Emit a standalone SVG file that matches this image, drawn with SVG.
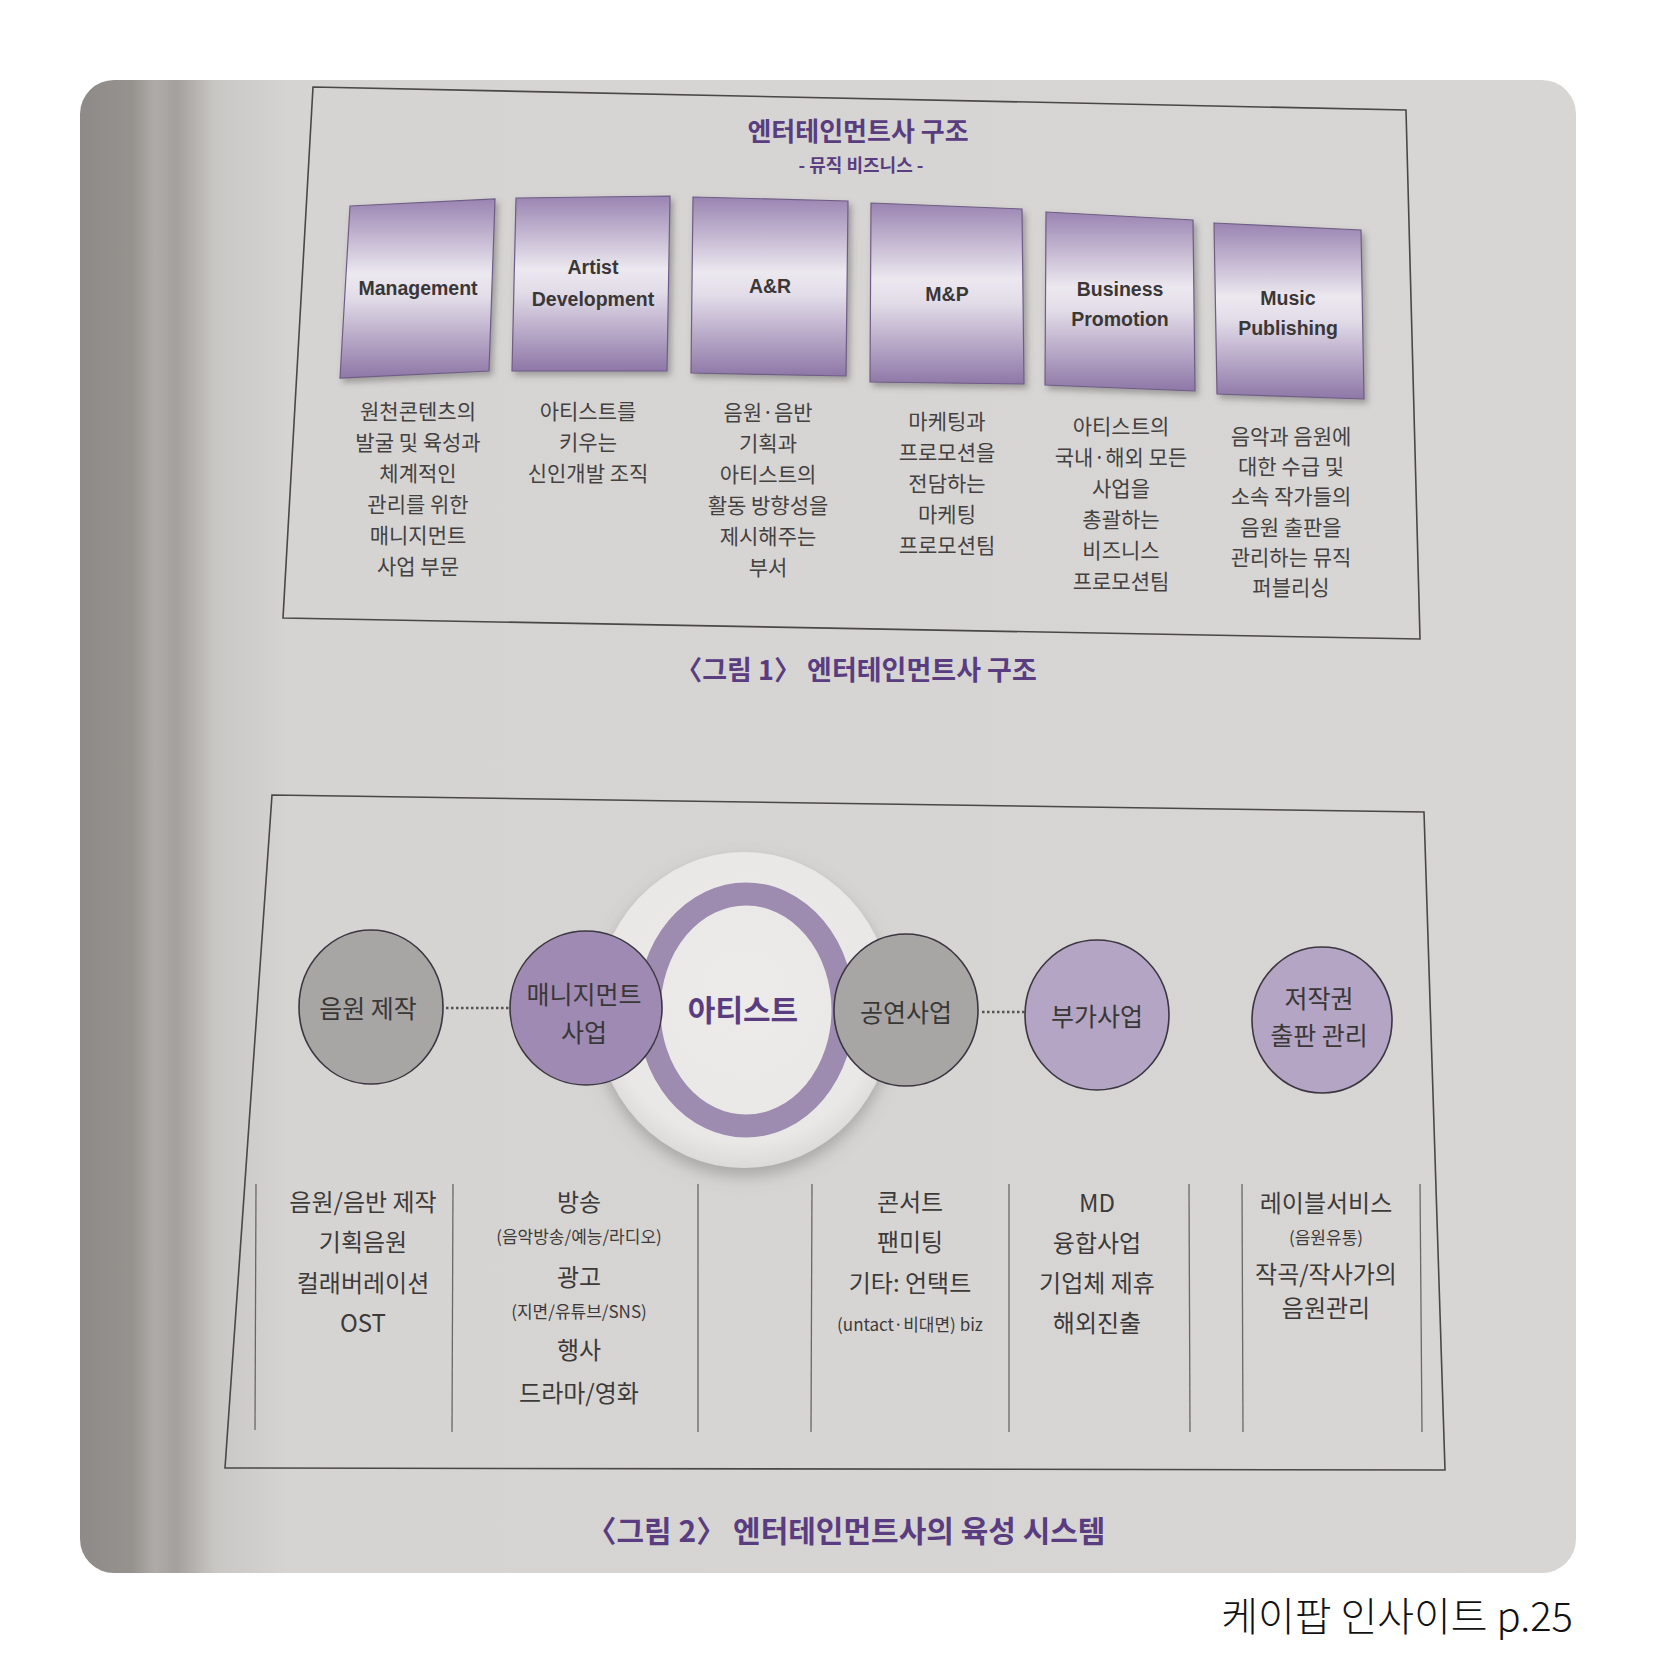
<svg xmlns="http://www.w3.org/2000/svg" width="1656" height="1656" viewBox="0 0 1656 1656">
<defs>
<linearGradient id="pageG" x1="0" y1="0" x2="1" y2="0">
<stop offset="0" stop-color="#8d8a88"/>
<stop offset="0.035" stop-color="#96938f"/>
<stop offset="0.05" stop-color="#aeaba8"/>
<stop offset="0.065" stop-color="#a3a09d"/>
<stop offset="0.09" stop-color="#c9c7c4"/>
<stop offset="0.14" stop-color="#d6d4d2"/>
<stop offset="1" stop-color="#d8d6d4"/>
</linearGradient>
<linearGradient id="boxG" x1="0" y1="0" x2="0" y2="1">
<stop offset="0" stop-color="#9a84b2"/>
<stop offset="0.42" stop-color="#ece8ef"/>
<stop offset="0.55" stop-color="#e2dce8"/>
<stop offset="1" stop-color="#8e77a7"/>
</linearGradient>
<radialGradient id="bigG" cx="0.5" cy="0.45" r="0.55">
<stop offset="0" stop-color="#ecebea"/>
<stop offset="0.85" stop-color="#e9e8e7"/>
<stop offset="1" stop-color="#dcdad8"/>
</radialGradient>
<filter id="sh" x="-20%" y="-20%" width="140%" height="140%">
<feDropShadow dx="3" dy="4" stdDeviation="3" flood-color="#555" flood-opacity="0.45"/>
</filter>
<filter id="sh2" x="-20%" y="-20%" width="140%" height="150%">
<feDropShadow dx="0" dy="8" stdDeviation="8" flood-color="#777" flood-opacity="0.5"/>
</filter>
<clipPath id="photo"><rect x="80" y="80" width="1496" height="1493" rx="34"/></clipPath>
</defs>
<style>
.frame{fill:none;stroke:#4a4747;stroke-width:1.6}
.box{fill:url(#boxG);stroke:#6f5d86;stroke-width:1.2;filter:url(#sh)}
.lbl{font-family:"Liberation Sans",Arial,sans-serif;font-weight:bold;font-size:19.5px;fill:#3a3737;text-anchor:middle}
.desc{font-family:"Noto Sans CJK KR","Noto Sans",sans-serif;font-size:21px;fill:#444141;text-anchor:middle}
.ttl{font-family:"Noto Sans CJK KR","Noto Sans",sans-serif;font-weight:bold;fill:#5a3d80;text-anchor:middle}
.ctx{font-family:"Noto Sans CJK KR","Noto Sans",sans-serif;font-size:25px;fill:#3a3737;text-anchor:middle}
.col{font-family:"Noto Sans CJK KR","Noto Sans",sans-serif;font-size:24px;fill:#3d3a3a;text-anchor:middle}
.sm{font-size:17px}
.gray{fill:#a8a6a5;stroke:#3b3640;stroke-width:1.6}
.pur{fill:#9e8ab2;stroke:#3b3640;stroke-width:1.6}
.lpur{fill:#b3a5c3;stroke:#3b3640;stroke-width:1.6}
.dot{stroke:#555;stroke-width:2.5;stroke-dasharray:2.5 2.5;fill:none}
.vl{stroke:#6a6767;stroke-width:1.3}
</style>

<rect x="0" y="0" width="1656" height="1656" fill="#ffffff"/>
<g clip-path="url(#photo)">
<rect x="80" y="80" width="1496" height="1493" fill="url(#pageG)"/>
</g>

<g id="figure1">
<polygon class="frame" points="313,87 1406,110 1420,639 283,618"/>
<text class="ttl" x="858" y="141" font-size="26">엔터테인먼트사 구조</text>
<text class="ttl" x="861" y="172" font-size="18" font-weight="normal" fill="#4a3a5e">- 뮤직 비즈니스 -</text>

<g id="box-management">
<polygon class="box" points="350,206 495,199 489,371 340,378"/>
<text class="lbl" x="418" y="295">Management</text>
<text class="desc"><tspan x="418" y="419">원천콘텐츠의</tspan><tspan x="418" y="450">발굴 및 육성과</tspan><tspan x="418" y="481">체계적인</tspan><tspan x="418" y="512">관리를 위한</tspan><tspan x="418" y="543">매니지먼트</tspan><tspan x="418" y="574">사업 부문</tspan></text>
</g>
<g id="box-artist-development">
<polygon class="box" points="516,198 670,196 667,371 512,371"/>
<text class="lbl"><tspan x="593" y="274">Artist</tspan><tspan x="593" y="306">Development</tspan></text>
<text class="desc"><tspan x="588" y="419">아티스트를</tspan><tspan x="588" y="450">키우는</tspan><tspan x="588" y="481">신인개발 조직</tspan></text>
</g>
<g id="box-ar">
<polygon class="box" points="693,197 848,201 846,376 691,373"/>
<text class="lbl" x="770" y="293">A&amp;R</text>
<text class="desc"><tspan x="768" y="420">음원·음반</tspan><tspan x="768" y="451">기획과</tspan><tspan x="768" y="482">아티스트의</tspan><tspan x="768" y="513">활동 방향성을</tspan><tspan x="768" y="544">제시해주는</tspan><tspan x="768" y="575">부서</tspan></text>
</g>
<g id="box-mp">
<polygon class="box" points="871,203 1022,209 1024,384 870,382"/>
<text class="lbl" x="947" y="301">M&amp;P</text>
<text class="desc"><tspan x="947" y="429">마케팅과</tspan><tspan x="947" y="460">프로모션을</tspan><tspan x="947" y="491">전담하는</tspan><tspan x="947" y="522">마케팅</tspan><tspan x="947" y="553">프로모션팀</tspan></text>
</g>
<g id="box-business-promotion">
<polygon class="box" points="1046,212 1193,220 1195,391 1045,385"/>
<text class="lbl"><tspan x="1120" y="296">Business</tspan><tspan x="1120" y="326">Promotion</tspan></text>
<text class="desc"><tspan x="1121" y="434">아티스트의</tspan><tspan x="1121" y="465">국내·해외 모든</tspan><tspan x="1121" y="496">사업을</tspan><tspan x="1121" y="527">총괄하는</tspan><tspan x="1121" y="558">비즈니스</tspan><tspan x="1121" y="589">프로모션팀</tspan></text>
</g>
<g id="box-music-publishing">
<polygon class="box" points="1214,223 1361,230 1364,399 1217,394"/>
<text class="lbl"><tspan x="1288" y="305">Music</tspan><tspan x="1288" y="335">Publishing</tspan></text>
<text class="desc"><tspan x="1291" y="444">음악과 음원에</tspan><tspan x="1291" y="474">대한 수급 및</tspan><tspan x="1291" y="504">소속 작가들의</tspan><tspan x="1291" y="535">음원 출판을</tspan><tspan x="1291" y="565">관리하는 뮤직</tspan><tspan x="1291" y="595">퍼블리싱</tspan></text>
</g>
<text class="ttl" x="856" y="680" font-size="27">〈그림 1〉 엔터테인먼트사 구조</text>
</g>

<g id="figure2">
<polygon class="frame" points="272,795 1424,812 1445,1470 225,1468"/>

<g id="artist-hub">
<ellipse cx="744" cy="1010" rx="149" ry="158" fill="url(#bigG)" filter="url(#sh2)"/>
<ellipse cx="746" cy="1010" rx="97" ry="116" fill="none" stroke="#9d8bb0" stroke-width="23"/>
</g>

<g id="connectors">
<line class="dot" x1="446" y1="1008" x2="510" y2="1008"/>
<line class="dot" x1="982" y1="1012" x2="1026" y2="1012"/>
</g>

<g id="node-music-production">
<ellipse class="gray" cx="371" cy="1007" rx="72" ry="77"/>
<text class="ctx" x="368" y="1018">음원 제작</text>
</g>
<g id="node-management">
<ellipse class="pur" cx="586" cy="1008" rx="76" ry="77"/>
<text class="ctx"><tspan x="584" y="1004">매니지먼트</tspan><tspan x="584" y="1042">사업</tspan></text>
</g>
<g id="node-artist">
<text class="ttl" x="743" y="1021" font-size="30">아티스트</text>
</g>
<g id="node-performance">
<ellipse class="gray" cx="906" cy="1010" rx="72" ry="76"/>
<text class="ctx" x="906" y="1022">공연사업</text>
</g>
<g id="node-additional">
<ellipse class="lpur" cx="1097" cy="1015" rx="72" ry="75"/>
<text class="ctx" x="1097" y="1026">부가사업</text>
</g>
<g id="node-copyright">
<ellipse class="lpur" cx="1322" cy="1020" rx="70" ry="73"/>
<text class="ctx"><tspan x="1319" y="1008">저작권</tspan><tspan x="1319" y="1045">출판 관리</tspan></text>
</g>

<g id="columns">
<line class="vl" x1="256" y1="1184" x2="255" y2="1430"/>
<line class="vl" x1="453" y1="1184" x2="452" y2="1432"/>
<line class="vl" x1="698" y1="1184" x2="698" y2="1432"/>
<line class="vl" x1="812" y1="1184" x2="811" y2="1432"/>
<line class="vl" x1="1009" y1="1184" x2="1009" y2="1432"/>
<line class="vl" x1="1189" y1="1184" x2="1190" y2="1432"/>
<line class="vl" x1="1242" y1="1184" x2="1243" y2="1432"/>
<line class="vl" x1="1420" y1="1184" x2="1422" y2="1432"/>
<text class="col"><tspan x="363" y="1211">음원/음반 제작</tspan><tspan x="363" y="1251">기획음원</tspan><tspan x="363" y="1292">컬래버레이션</tspan><tspan x="363" y="1332">OST</tspan></text>
<text class="col"><tspan x="579" y="1211">방송</tspan><tspan class="sm" x="579" y="1243">(음악방송/예능/라디오)</tspan><tspan x="579" y="1286">광고</tspan><tspan class="sm" x="579" y="1318">(지면/유튜브/SNS)</tspan><tspan x="579" y="1359">행사</tspan><tspan x="579" y="1402">드라마/영화</tspan></text>
<text class="col"><tspan x="910" y="1211">콘서트</tspan><tspan x="910" y="1251">팬미팅</tspan><tspan x="910" y="1292">기타: 언택트</tspan><tspan class="sm" x="910" y="1331">(untact·비대면) biz</tspan></text>
<text class="col"><tspan x="1097" y="1212">MD</tspan><tspan x="1097" y="1252">융합사업</tspan><tspan x="1097" y="1292">기업체 제휴</tspan><tspan x="1097" y="1332">해외진출</tspan></text>
<text class="col"><tspan x="1326" y="1212">레이블서비스</tspan><tspan class="sm" x="1326" y="1244">(음원유통)</tspan><tspan x="1326" y="1283">작곡/작사가의</tspan><tspan x="1326" y="1317">음원관리</tspan></text>
</g>
<text class="ttl" x="846" y="1542" font-size="30">〈그림 2〉 엔터테인먼트사의 육성 시스템</text>
</g>

<text x="1573" y="1631" font-family="'Noto Sans CJK KR','Noto Sans',sans-serif" font-size="40" font-weight="300" fill="#111" text-anchor="end">케이팝 인사이트 p.25</text>
</svg>
